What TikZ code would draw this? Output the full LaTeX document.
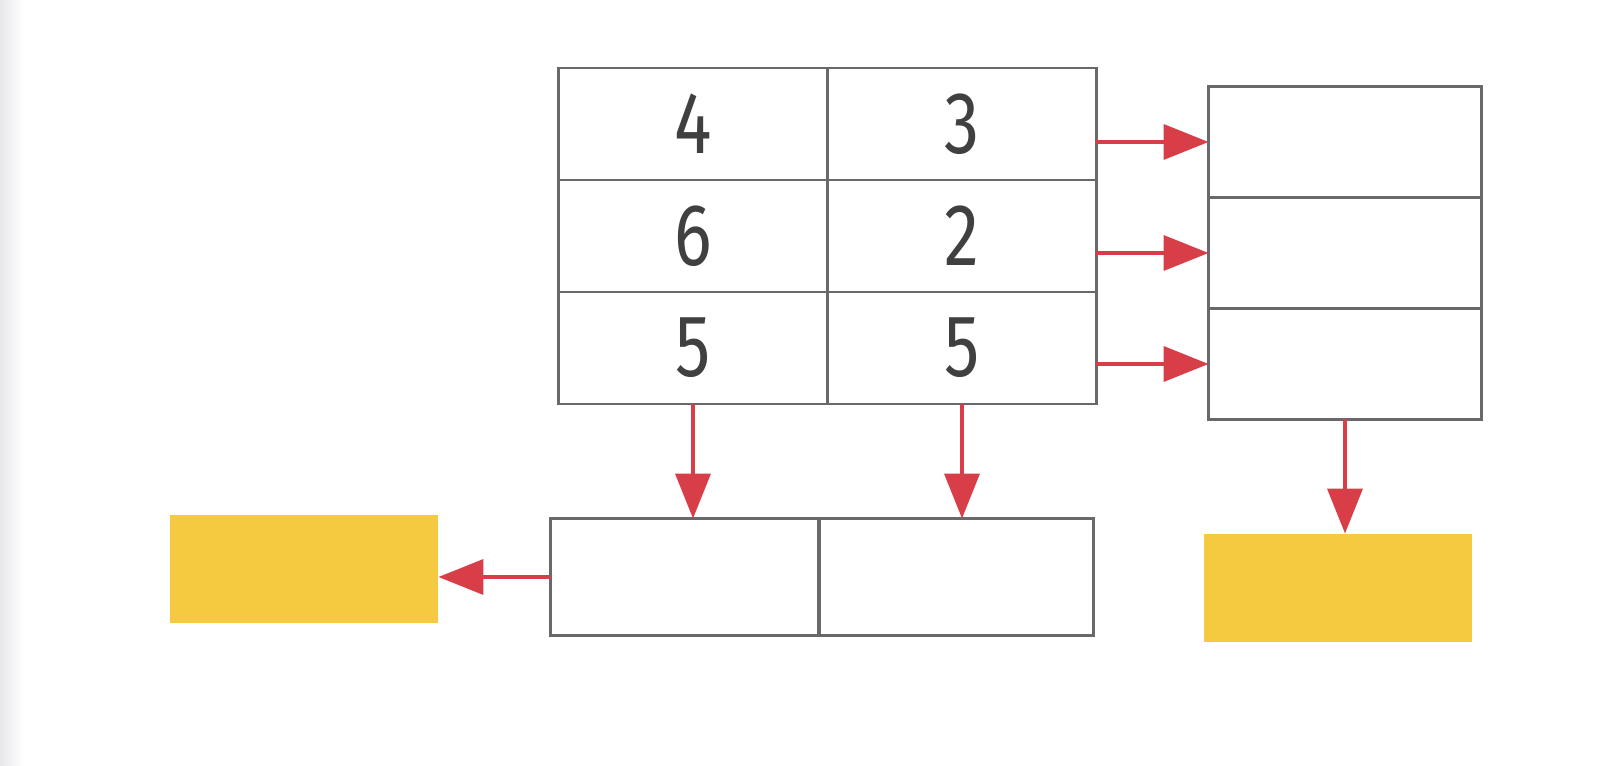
\documentclass[tikz,border=0pt]{standalone}
\usepackage{fontspec}
\newfontfamily\digitfont[FakeStretch=0.8]{Fira Sans}
\usetikzlibrary{arrows.meta}
\definecolor{cellgray}{RGB}{105,105,108}
\definecolor{arrowred}{RGB}{216,62,72}
\definecolor{boxyellow}{RGB}{246,202,64}
\tikzset{
  cell/.style={draw=cellgray, line width=1.4pt, minimum width=5.38cm, minimum height=2.24cm,
    inner sep=0pt, outer sep=0pt, font=\fontsize{50}{50}\selectfont\digitfont, text=black!75},
  outbox/.style={fill=boxyellow, minimum width=5.38cm, minimum height=2.18cm, inner sep=0pt, outer sep=0pt},
  flow/.style={draw=arrowred, line width=2.2pt, -{Triangle[length=0.9cm,width=0.7cm]}},
}
\begin{document}
\begin{tikzpicture}[x=0.02cm,y=-0.02cm]
  \useasboundingbox (0,0) rectangle (1600,766);
  \fill[left color=blue!6!gray!18, right color=white] (0,0) rectangle (24,766);
  % table
  \foreach \r/\a/\b [count=\i] in {124/4/3, 236/6/2, 348/5/5} {
    \node[cell] (m\i1) at (693,\r) {\a};
    \node[cell] (m\i2) at (962,\r) {\b};
  }
  % right column
  \foreach \r [count=\i] in {142,253,364}
    \node[cell, minimum width=5.46cm, minimum height=2.22cm] (r\i) at (1345,\r) {};
  % bottom row
  \node[cell, minimum height=2.34cm] (b1) at (685,577) {};
  \node[cell, minimum width=5.5cm, minimum height=2.34cm] (b2) at (956,577) {};
  % outputs
  \node[outbox] (y1) at (304,569) {};
  \node[outbox] (y2) at (1338,588) {};
  % arrows
  \foreach \i in {1,2,3}
    \draw[flow] (r\i.west -| m\i2.east) -- (r\i.west);
  \draw[flow] (m31.south) -- (m31.south |- b1.north);
  \draw[flow] (m32.south) -- (m32.south |- b2.north);
  \draw[flow] (r3.south) -- (r3.south |- y2.north);
  \draw[flow] (b1.west) -- (b1.west -| y1.east);
\end{tikzpicture}
\end{document}
